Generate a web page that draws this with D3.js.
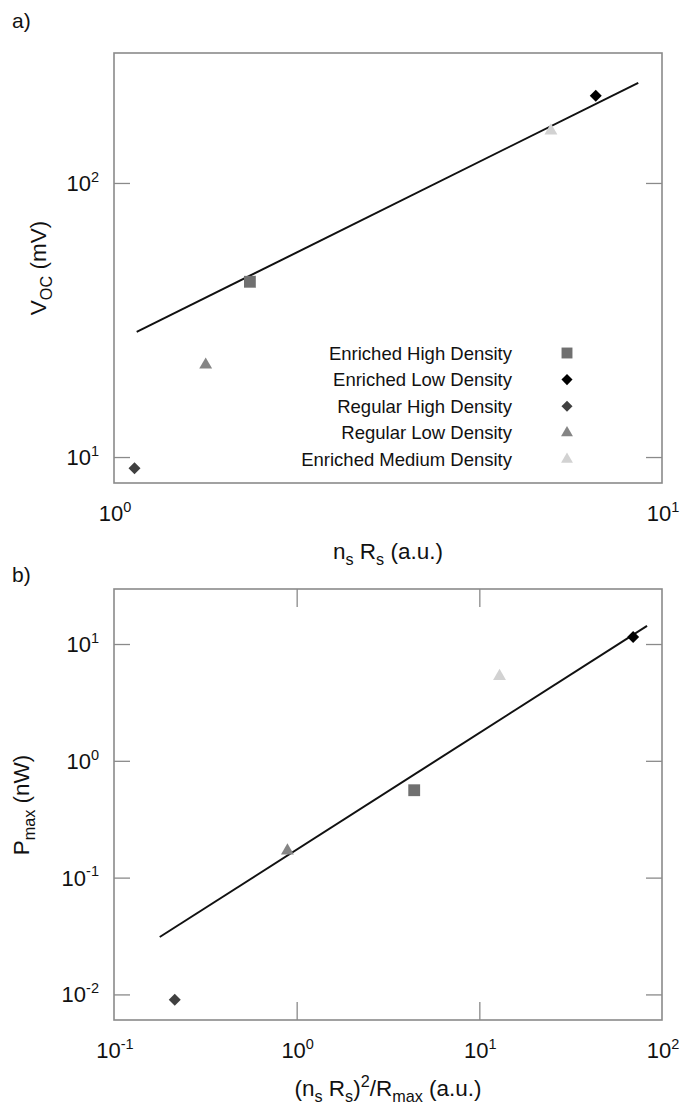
<!DOCTYPE html>
<html>
<head>
<meta charset="utf-8">
<script src="https://cdn.jsdelivr.net/npm/d3@7"></script>
<style>
  html, body { margin: 0; padding: 0; background: #fff; }
  svg { display: block; font-family: "Liberation Sans", Arial, Helvetica, sans-serif; }
</style>
</head>
<body>
<svg id="chart" width="682" height="1105"></svg>
<script>
// ---- data ----
const categories = ["Enriched High Density", "Enriched Low Density", "Regular High Density", "Regular Low Density", "Enriched Medium Density"];
const nsRs = [1.77, 7.57, 1.09, 1.47, 6.27];           // panel a x
const vocValues = [43.6, 208, 9.1, 21.7, 155];          // panel a y (mV)
const nsRs2OverRmax = [4.4, 69.5, 0.215, 0.89, 12.9];   // panel b x
const pmaxValues = [0.56, 11.5, 0.009, 0.17, 5.3];      // panel b y (nW)
const fitAX = [1.10, 9.05];
const fitAY = [28.6, 232];
const fitBX = [0.178, 82.8];
const fitBY = [0.031, 14.3];
const tickA_X = [1, 10];
const tickA_Y = [10, 100];
const tickB_X = [0.1, 1, 10, 100];
const tickB_Y = [0.01, 0.1, 1, 10];

// ---- styles ----
const markerStyle = {
  "Enriched High Density": { shape: d3.symbolSquare, fill: "#707070", size: 140, rot: 0 },
  "Enriched Low Density": { shape: d3.symbolSquare, fill: "#000000", size: 72, rot: 45 },
  "Regular High Density": { shape: d3.symbolSquare, fill: "#404040", size: 72, rot: 45 },
  "Regular Low Density": { shape: d3.symbolTriangle, fill: "#858585", size: 72, rot: 0 },
  "Enriched Medium Density": { shape: d3.symbolTriangle, fill: "#d2d2d2", size: 72, rot: 0 }
};

const svg = d3.select("#chart");
const L = 114, R = 662;
const frameColor = "#8a8a8a";
const tickLen = 16;
const tickFont = 22;
const titleFont = 22.5;

function supLabel(g, x, y, exp, anchor, size) {
  const t = g.append("text")
    .attr("x", x).attr("y", y)
    .attr("text-anchor", anchor)
    .attr("font-size", size)
    .attr("fill", "#111");
  t.append("tspan").text("10");
  t.append("tspan").attr("dy", -size * 0.42).attr("font-size", size * 0.66).text(exp);
  return t;
}

function panel(opts) {
  const { top, bottom, xDomain, yDomain, xTicks, yTicks, xInnerTicks, xs, ys, fitX, fitY } = opts;
  const x = d3.scaleLog().domain(xDomain).range([L, R]);
  const y = d3.scaleLog().domain(yDomain).range([bottom, top]);
  const g = svg.append("g");

  const yl = g.append("g").attr("transform", `translate(${L},0)`)
    .call(d3.axisLeft(y).tickValues(yTicks).tickSizeInner(-tickLen).tickSizeOuter(0).tickFormat(""));
  const yr = g.append("g").attr("transform", `translate(${R},0)`)
    .call(d3.axisRight(y).tickValues(yTicks).tickSizeInner(-tickLen).tickSizeOuter(0).tickFormat(""));
  const xb = g.append("g").attr("transform", `translate(0,${bottom})`)
    .call(d3.axisBottom(x).tickValues(xInnerTicks).tickSizeInner(-tickLen - 2).tickSizeOuter(0).tickFormat(""));
  const xt = g.append("g").attr("transform", `translate(0,${top})`)
    .call(d3.axisTop(x).tickValues(xInnerTicks).tickSizeInner(-tickLen - 2).tickSizeOuter(0).tickFormat(""));
  [yl, yr, xb, xt].forEach(a => {
    a.select(".domain").remove();
    a.selectAll("line").attr("stroke", frameColor).attr("stroke-width", 1.3);
  });

  g.append("rect").attr("x", L).attr("y", top).attr("width", R - L).attr("height", bottom - top)
    .attr("fill", "none").attr("stroke", frameColor).attr("stroke-width", 1.6);

  yTicks.forEach(v => {
    supLabel(g, 99, y(v) + 8, String(Math.round(Math.log10(v))), "end", tickFont);
  });
  xTicks.forEach(v => {
    supLabel(g, x(v) + 1, bottom + 38, String(Math.round(Math.log10(v))), "middle", tickFont);
  });

  const line = d3.line().x(d => x(d[0])).y(d => y(d[1]));
  g.append("path").datum(d3.zip(fitX, fitY)).attr("d", line)
    .attr("fill", "none").attr("stroke", "#111").attr("stroke-width", 2);

  categories.forEach((c, i) => {
    const s = markerStyle[c];
    g.append("path")
      .attr("d", d3.symbol().type(s.shape).size(s.size)())
      .attr("transform", `translate(${x(xs[i])},${y(ys[i])}) rotate(${s.rot})`)
      .attr("fill", s.fill);
  });
  return { x, y, g };
}

// ---- panel a ----
panel({
  top: 53, bottom: 483,
  xDomain: [1, 10], yDomain: [8.04, 298],
  xTicks: tickA_X, yTicks: tickA_Y, xInnerTicks: [],
  xs: nsRs, ys: vocValues, fitX: fitAX, fitY: fitAY
});

// ---- panel b ----
panel({
  top: 589, bottom: 1020,
  xDomain: [0.1, 100], yDomain: [Math.pow(10, -2.219), Math.pow(10, 1.471)],
  xTicks: tickB_X, yTicks: tickB_Y, xInnerTicks: [1, 10],
  xs: nsRs2OverRmax, ys: pmaxValues, fitX: fitBX, fitY: fitBY
});

// panel letters
svg.append("text").attr("x", 12).attr("y", 28).attr("font-size", 21).attr("fill", "#111").text("a)");
svg.append("text").attr("x", 12).attr("y", 582).attr("font-size", 21).attr("fill", "#111").text("b)");

// axis titles
function subText(t, parts, size) {
  parts.forEach(p => {
    const ts = t.append("tspan").text(p.t);
    if (p.sub) ts.attr("font-size", size * 0.72).attr("dy", size * 0.28);
    if (p.sup) ts.attr("font-size", size * 0.72).attr("dy", -size * 0.42);
    if (p.back) ts.attr("dy", p.back);
  });
}
const tsz = titleFont;
const txa = svg.append("text").attr("x", 388).attr("y", 559).attr("text-anchor", "middle").attr("font-size", tsz).attr("fill", "#111");
subText(txa, [{ t: "n" }, { t: "s", sub: true }, { t: " R", back: -tsz * 0.28 }, { t: "s", sub: true }, { t: " (a.u.)", back: -tsz * 0.28 }], tsz);
const txb = svg.append("text").attr("x", 388).attr("y", 1096).attr("text-anchor", "middle").attr("font-size", tsz).attr("fill", "#111");
subText(txb, [{ t: "(n" }, { t: "s", sub: true }, { t: " R", back: -tsz * 0.28 }, { t: "s", sub: true }, { t: ")", back: -tsz * 0.28 }, { t: "2", sup: true }, { t: "/R", back: tsz * 0.42 }, { t: "max", sub: true }, { t: " (a.u.)", back: -tsz * 0.28 }], tsz);
const tya = svg.append("text").attr("transform", "translate(46,268) rotate(-90)").attr("text-anchor", "middle").attr("font-size", tsz).attr("fill", "#111");
subText(tya, [{ t: "V" }, { t: "OC", sub: true }, { t: " (mV)", back: -tsz * 0.28 }], tsz);
const tyb = svg.append("text").attr("transform", "translate(29,805) rotate(-90)").attr("text-anchor", "middle").attr("font-size", tsz).attr("fill", "#111");
subText(tyb, [{ t: "P" }, { t: "max", sub: true }, { t: " (nW)", back: -tsz * 0.28 }], tsz);

// legend
const legendY0 = 353, legendStep = 26.6;
categories.forEach((c, i) => {
  const yy = legendY0 + i * legendStep;
  svg.append("text").attr("x", 512).attr("y", yy + 6.5).attr("text-anchor", "end")
    .attr("font-size", 18.5).attr("fill", "#111").text(c);
  const s = markerStyle[c];
  svg.append("path")
    .attr("d", d3.symbol().type(s.shape).size(s.size * 0.85)())
    .attr("transform", `translate(567,${yy}) rotate(${s.rot})`)
    .attr("fill", s.fill);
});
</script>
</body>
</html>
